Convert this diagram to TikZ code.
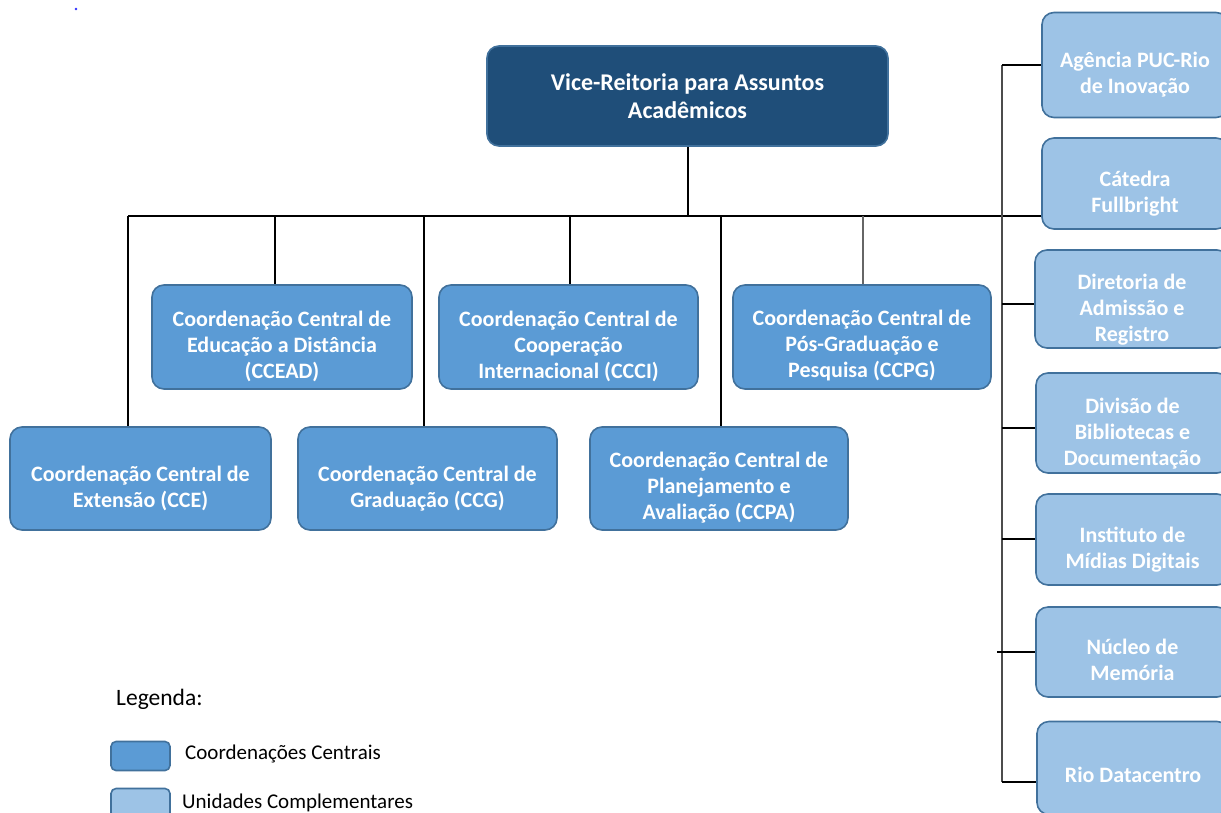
\documentclass[tikz,border=0pt]{standalone}
\usepackage{fontspec}
\setmainfont{Carlito}
\definecolor{topfill}{HTML}{1F4E79}
\definecolor{topdraw}{HTML}{41719C}
\definecolor{midfill}{HTML}{5B9BD5}
\definecolor{middraw}{HTML}{41719C}
\definecolor{litfill}{HTML}{9DC3E6}
\definecolor{litdraw}{HTML}{41719C}
\definecolor{dotblue}{HTML}{3030FF}
\tikzset{
  basebox/.style={rectangle, rounded corners=12pt, line width=1.6pt, inner sep=0pt},
  topbox/.style={basebox, fill=topfill, draw=topdraw, align=center, text=white, font=\fontsize{24}{28}\selectfont\bfseries},
  coordbox/.style={basebox, fill=midfill, draw=middraw},
  unitbox/.style={basebox, fill=litfill, draw=litdraw},
  coordtext/.style={inner sep=0pt, align=center, text=white, font=\fontsize{22}{26}\selectfont\bfseries},
  unittext/.style={inner sep=0pt, align=center, text=white, font=\fontsize{22}{26}\selectfont\bfseries},
  legbox/.style={rectangle, rounded corners=5pt, line width=1.6pt, inner sep=0pt, minimum width=59pt, minimum height=29pt},
  conn/.style={line width=1.3pt, black},
  spine/.style={line width=1.6pt, black!70},
  legtext/.style={anchor=west, inner sep=0pt, font=\fontsize{21}{24}\selectfont}
}
\begin{document}
\begin{tikzpicture}[x=1pt,y=-1pt]
\useasboundingbox (0,0) rectangle (1221,812);
\fill[white] (0,0) rectangle (1221,812);
\fill[dotblue] (76,9) circle (1.3pt);

% top
\node[topbox, minimum width=401pt, minimum height=100pt] (top) at (687.5,96) {Vice-Reitoria para Assuntos\\Acadêmicos};

% central coordinations
\node[coordbox, minimum width=260pt, minimum height=104pt] (ccead) at (282,337) {};
\node[coordbox, minimum width=259pt, minimum height=104pt] (ccci) at (568.5,337) {};
\node[coordbox, minimum width=258pt, minimum height=104pt] (ccpg) at (862,337) {};
\node[coordbox, minimum width=261pt, minimum height=103pt] (cce) at (140.5,478.5) {};
\node[coordbox, minimum width=259pt, minimum height=103pt] (ccg) at (427.5,478.5) {};
\node[coordbox, minimum width=258pt, minimum height=103pt] (ccpa) at (719,478.5) {};
\node[coordtext] (ccead-t) at ([yshift=-9pt]ccead.center) {Coordenação Central de\\Educação a Distância\\(CCEAD)};
\node[coordtext] (ccci-t) at ([yshift=-9pt]ccci.center) {Coordenação Central de\\Cooperação\\Internacional (CCCI)};
\node[coordtext] (ccpg-t) at ([yshift=-9pt]ccpg.center) {Coordenação Central de\\Pós-Graduação e\\Pesquisa (CCPG)};
\node[coordtext] (cce-t) at ([yshift=-10pt]cce.center) {Coordenação Central de\\Extensão (CCE)};
\node[coordtext] (ccg-t) at ([yshift=-10pt]ccg.center) {Coordenação Central de\\Graduação (CCG)};
\node[coordtext] (ccpa-t) at ([yshift=-9.5pt]ccpa.center) {Coordenação Central de\\Planejamento e\\Avaliação (CCPA)};

% complementary units
\node[unitbox, minimum width=186pt, minimum height=105pt] (ag) at (1135,65) {};
\node[unitbox, minimum width=186pt, minimum height=91pt] (cat) at (1135,183.5) {};
\node[unitbox, minimum width=194pt, minimum height=98pt] (dir) at (1132,299) {};
\node[unitbox, minimum width=193pt, minimum height=100pt] (div) at (1132.5,423) {};
\node[unitbox, minimum width=193pt, minimum height=91pt] (ins) at (1132.5,539.5) {};
\node[unitbox, minimum width=193pt, minimum height=90pt] (nuc) at (1132.5,652) {};
\node[unitbox, minimum width=192pt, minimum height=93pt] (rio) at (1133,768) {};
\node[unittext] (ag-t) at ([yshift=-9.5pt]ag.center) {Agência PUC-Rio\\de Inovação};
\node[unittext] (cat-t) at ([yshift=-10pt]cat.center) {Cátedra\\Fullbright};
\node[unittext] (dir-t) at ([yshift=-10.5pt]dir.center) {Diretoria de\\Admissão e\\Registro};
\node[unittext] (div-t) at ([yshift=-10.5pt]div.center) {Divisão de\\Bibliotecas e\\Documentação};
\node[unittext] (ins-t) at ([yshift=-10.5pt]ins.center) {Instituto de\\Mídias Digitais};
\node[unittext] (nuc-t) at ([yshift=-7.5pt]nuc.center) {Núcleo de\\Memória};
\node[unittext] (rio-t) at ([yshift=-7pt]rio.center) {Rio Datacentro};

% bus
\coordinate (busL) at (128,216);
\coordinate (b2) at (275,216);
\coordinate (b3) at (424,216);
\coordinate (b4) at (570,216);
\coordinate (b5) at (721,216);
\coordinate (b6) at (863,216);
\draw[conn] (busL) -- (busL -| cat.west);
\draw[conn, line width=2pt] (top.south) -- (top.south |- busL);
\draw[conn] (busL) -- (busL |- cce.north);
\draw[conn] (b2) -- (b2 |- ccead.north);
\draw[conn] (b3) -- (b3 |- ccg.north);
\draw[conn] (b4) -- (b4 |- ccci.north);
\draw[conn] (b5) -- (b5 |- ccpa.north);
\draw[conn, black!60] (b6) -- (b6 |- ccpg.north);

% right spine
\coordinate (s1) at (1002,65);
\coordinate (s3) at (1002,304);
\coordinate (s4) at (1002,428);
\coordinate (s5) at (1002,539);
\coordinate (s6) at (997,652);
\coordinate (s7) at (1002,782);
\draw[spine] (s1) -- (s7);
\draw[conn] (s1) -- (ag.west);
\draw[conn] (s3) -- (s3 -| dir.west);
\draw[conn] (s4) -- (s4 -| div.west);
\draw[conn] (s5) -- (s5 -| ins.west);
\draw[conn] (s6) -- (s6 -| nuc.west);
\draw[conn] (s7) -- (s7 -| rio.west);

% legend
\node[anchor=base west, inner sep=0pt, font=\fontsize{23.5}{28}\selectfont] (leg) at (116,705) {Legenda:};
\node[legbox, fill=midfill, draw=middraw] (lb1) at (140.5,756) {};
\node[legbox, fill=litfill, draw=litdraw] (lb2) at (140.5,803) {};
\node[legtext] (lt1) at (185,754) {Coordenações Centrais};
\node[legtext] (lt2) at (182,803) {Unidades Complementares};
\end{tikzpicture}
\end{document}
